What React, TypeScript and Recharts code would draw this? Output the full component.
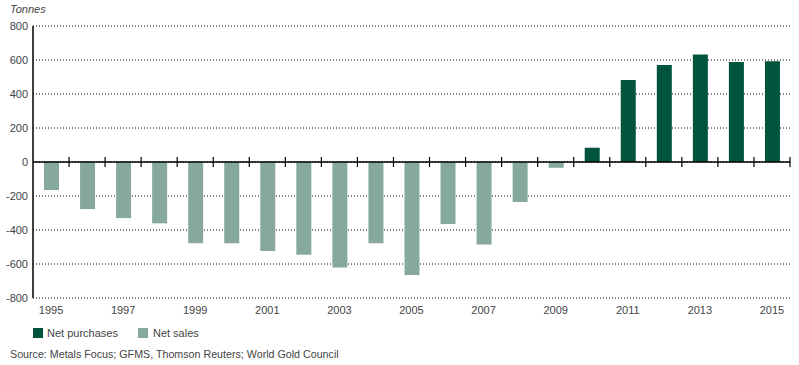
import React from 'react';
import { BarChart, Bar, XAxis, YAxis, CartesianGrid, ReferenceLine } from 'recharts';

const years = [
  '1995', '1996', '1997', '1998', '1999', '2000', '2001', '2002', '2003', '2004', '2005',
  '2006', '2007', '2008', '2009', '2010', '2011', '2012', '2013', '2014', '2015',
];
// net central bank purchases (+) / sales (-), tonnes
const netValues = [
  -165, -277, -330, -361, -478, -478, -524, -545, -621, -478, -665,
  -365, -485, -235, -34, 84, 482, 570, 633, 588, 592,
];
const yTicks = [-800, -600, -400, -200, 0, 200, 400, 600, 800];

const DARK = '#00543e';
const LIGHT = '#87a99b';
const FONT = '"Liberation Sans", Arial, sans-serif';

const chartData = years.map((year, i) => ({
  year,
  purchases: netValues[i] > 0 ? netValues[i] : null,
  sales: netValues[i] < 0 ? netValues[i] : null,
}));

// zero line with tick marks between categories
const ZeroLine = (props: any) => {
  const { x1, x2, y1 } = props;
  const step = (x2 - x1) / years.length;
  return (
    <g>
      <line x1={x1} x2={x2} y1={y1} y2={y1} stroke="#000" strokeWidth={1.5} />
      {years.map((_, i) => (
        <line
          key={i}
          x1={x1 + step * (i + 1)}
          x2={x1 + step * (i + 1)}
          y1={y1 - 5}
          y2={y1 + 5}
          stroke="#000"
          strokeWidth={1.2}
        />
      ))}
    </g>
  );
};

const App = () => {
  return (
    <div style={{ position: 'absolute', left: 0, top: 0, width: 799, height: 365, background: '#fff', fontFamily: FONT }}>
      <div style={{ position: 'absolute', left: 10, top: 3, fontSize: 11, fontStyle: 'italic', color: '#444' }}>Tonnes</div>
      <BarChart
        width={799}
        height={320}
        data={chartData}
        margin={{ top: 26, right: 9, left: 0, bottom: 0 }}
        barSize={15}
      >
        <CartesianGrid vertical={false} stroke="#000" strokeDasharray="1 2" />
        <XAxis
          dataKey="year"
          interval={1}
          axisLine={false}
          tickLine={false}
          tickSize={0}
          tickMargin={8}
          height={22}
          tick={{ fontSize: 11, fill: '#444', fontFamily: FONT }}
        />
        <YAxis
          domain={[-800, 800]}
          ticks={yTicks}
          width={33}
          axisLine={{ stroke: '#000', strokeWidth: 1.5 }}
          tickLine={false}
          tickSize={0}
          tickMargin={5}
          tick={{ fontSize: 11, fill: '#444', fontFamily: FONT }}
        />
        <Bar dataKey="purchases" stackId="a" fill={DARK} isAnimationActive={false} />
        <Bar dataKey="sales" stackId="a" fill={LIGHT} isAnimationActive={false} />
        <ReferenceLine y={0} shape={<ZeroLine />} />
      </BarChart>
      <div style={{ position: 'absolute', left: 33, top: 327, display: 'flex', alignItems: 'center', fontSize: 11, color: '#444' }}>
        <span style={{ width: 10, height: 10, background: DARK, display: 'inline-block', marginRight: 4 }} />
        <span style={{ marginRight: 20 }}>Net purchases</span>
        <span style={{ width: 10, height: 10, background: LIGHT, display: 'inline-block', marginRight: 5 }} />
        <span>Net sales</span>
      </div>
      <div style={{ position: 'absolute', left: 10, top: 348, fontSize: 10.7, color: '#444' }}>
        Source: Metals Focus; GFMS, Thomson Reuters; World Gold Council
      </div>
    </div>
  );
};

export default App;
